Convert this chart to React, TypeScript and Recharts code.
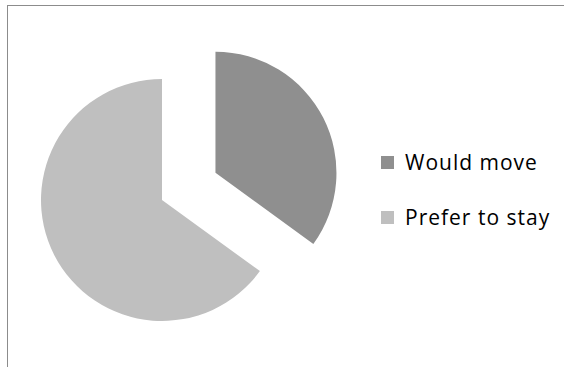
import { PieChart, Pie, Cell, Legend } from "recharts";

const categories = ["Would move", "Prefer to stay"];
const shares = [35, 65];
const COLORS = ["#8f8f8f", "#bfbfbf"];

const data = categories.map((name, i) => ({ name, value: shares[i] }));

const CX = 162;
const CY = 200;
const R = 121;
const EXPLODE = 60;

// mid angle of the first (exploded) slice, going clockwise from 12 o'clock
const total = shares.reduce((a, b) => a + b, 0);
const midDeg = 90 - (shares[0] / total) * 180;
const dx = Math.cos((midDeg * Math.PI) / 180) * EXPLODE;
const dy = -Math.sin((midDeg * Math.PI) / 180) * EXPLODE;

function LegendBox() {
  return (
    <div style={{ fontFamily: "'Open Sans', sans-serif", fontSize: 21, letterSpacing: 1, color: "#000" }}>
      {categories.map((c, i) => (
        <div key={c} style={{ display: "flex", alignItems: "center", height: 55 }}>
          <span style={{ width: 13, height: 13, background: COLORS[i], marginRight: 11, display: "inline-block" }} />
          <span style={{ lineHeight: 1 }}>{c}</span>
        </div>
      ))}
    </div>
  );
}

export default function App() {
  return (
    <div style={{ position: "fixed", left: 0, top: 0, width: 564, height: 367, overflow: "hidden", background: "#fff" }}>
      <div style={{ position: "absolute", left: 7, top: 5, width: 620, height: 420, border: "1px solid #8c8c8c" }} />
      <div style={{ position: "absolute", left: 0, top: 0 }}>
        <PieChart width={564} height={367} margin={{ top: 0, right: 0, bottom: 0, left: 0 }}>
          <Pie
            data={data}
            dataKey="value"
            nameKey="name"
            cx={CX}
            cy={CY}
            outerRadius={R}
            startAngle={90}
            endAngle={-270}
            stroke="none"
            isAnimationActive={false}
          >
            {data.map((_, i) => (
              <Cell key={i} fill={i === 0 ? "transparent" : COLORS[i]} />
            ))}
          </Pie>
          <Pie
            data={data}
            dataKey="value"
            nameKey="name"
            cx={CX + dx}
            cy={CY + dy}
            outerRadius={R}
            startAngle={90}
            endAngle={-270}
            stroke="none"
            isAnimationActive={false}
            legendType="none"
          >
            {data.map((_, i) => (
              <Cell key={i} fill={i === 0 ? COLORS[i] : "transparent"} />
            ))}
          </Pie>
          <Legend content={<LegendBox />} wrapperStyle={{ left: 381, top: 135, width: 180 }} />
        </PieChart>
      </div>
    </div>
  );
}
